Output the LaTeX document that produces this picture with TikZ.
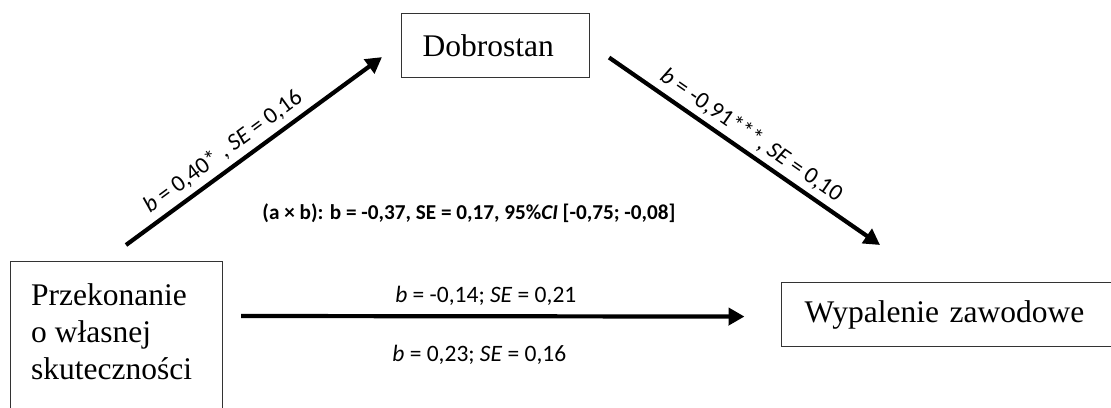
\documentclass[tikz,border=0pt]{standalone}
\usepackage{fontspec}
\setmainfont{Liberation Serif}
\newfontfamily\calib{Carlito}
\usetikzlibrary{arrows.meta,calc}
\tikzset{
  box/.style={draw=black!80, line width=1.1pt, rectangle, inner sep=0pt, font=\fontsize{31.5}{37}\selectfont},
  arr/.style={line width=4.2pt, -{Triangle[length=16pt,width=17pt]}},
  lab/.style={font=\calib\fontsize{23.5}{28}\selectfont, inner sep=0pt},
  boldlab/.style={font=\calib\bfseries\fontsize{21.2}{25}\selectfont, inner sep=0pt},
}
\begin{document}
\begin{tikzpicture}[x=1pt,y=-1pt]
\useasboundingbox (0,0) rectangle (1111,407);
\clip (0,0) rectangle (1111,407);
% boxes
\node[box, anchor=north west, minimum width=188pt, minimum height=64pt, text width=146pt, inner xsep=21pt, align=left] (D) at (401,13) {Dobrostan};
\node[box, anchor=north west, minimum width=212pt, minimum height=170pt] (P) at (10,261) {};
\node[anchor=north west, inner sep=0pt, align=left, font=\fontsize{31.5}{37}\selectfont] (Ptext) at (31,283.5) {Przekonanie\\o własnej\\skuteczności};
\node[box, anchor=north west, minimum width=340pt, minimum height=64pt, text width=317pt, inner xsep=23pt, align=left] (W) at (781,282) {Wypalenie zawodowe};
% connector end points
\coordinate (a1) at ($(P.north west)+(116,-16)$);
\coordinate (a2) at ($(D.south west)+(-19,-21)$);
\coordinate (b1) at ($(D.east)+(19,12)$);
\coordinate (b2) at ($(W.north west)+(99,-37)$);
\coordinate (c1) at ($(P.north east)+(18,55)$);
\coordinate (c2) at ($(W.west)+(-36.5,2)$);
% arrows
\draw[arr] (a1) -- node[lab, sloped, pos=0.42, above=6pt] (la) {\textit{b} = 0,40* , \textit{SE} = 0,16} (a2);
\draw[arr] (b1) -- node[lab, sloped, pos=0.49, above=5pt] (lb) {\textit{b} = -0,91***, \textit{SE} = 0,10} (b2);
\draw[arr] (c1) -- node[lab, pos=0.5, above=9pt, xshift=-7pt] (lc) {\textit{b} = -0,14; \textit{SE} = 0,21}
                   node[lab, pos=0.5, below=27pt, xshift=-13.5pt] (ld) {\textit{b} = 0,23; \textit{SE} = 0,16} (c2);
\node[boldlab] (ab) at (469,213) {(a × b): b = -0,37, SE = 0,17, 95\%\textit{CI} [-0,75; -0,08]};
\end{tikzpicture}
\end{document}
